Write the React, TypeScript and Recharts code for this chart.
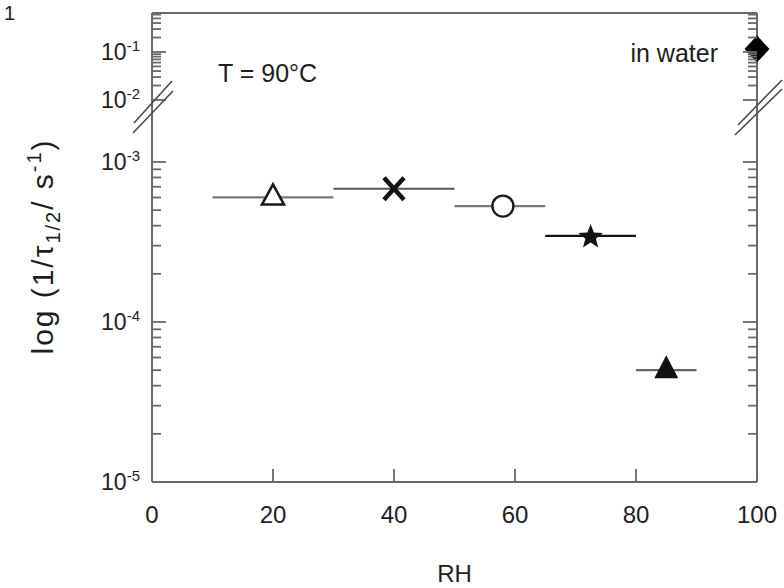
import React from 'react';
import { ComposedChart, Scatter, XAxis, YAxis, ErrorBar, ReferenceLine } from 'recharts';

const FONT = '"Liberation Sans", Arial, Helvetica, sans-serif';
const AXIS_COLOR = '#6a6a6a';
const TEXT_COLOR = '#1e1e1e';

// ---- data ----
const seriesNames = ['RH 20 %', 'RH 40 %', 'RH 58 %', 'RH 72 %', 'RH 85 %', 'in water'];
const rhCenter = [20, 40, 58, 72.5, 85, 100];
const rhLow = [10, 30, 50, 65, 80, 100];
const rhHigh = [30, 50, 65, 80, 90, 100];
const rateValues = [6.0e-4, 6.8e-4, 5.3e-4, 3.45e-4, 5.0e-5, 0.115];
const barColors = ['#7a7a7a', '#555555', '#7a7a7a', '#141414', '#666666', 'none'];
const axisOfSeries = ['y', 'y', 'y', 'y', 'y', 'r'];

const xTicks = [0, 20, 40, 60, 80, 100];
const yMajorExponents = [-5, -4, -3, -2, -1];
const yMinorLower = [2e-5, 3e-5, 4e-5, 5e-5, 6e-5, 7e-5, 8e-5, 9e-5, 2e-4, 3e-4, 4e-4, 5e-4, 6e-4, 7e-4, 8e-4, 9e-4];
const yMinorUpper = [2e-2, 3e-2, 4e-2, 5e-2, 6e-2, 7e-2, 8e-2, 9e-2, 2e-1, 3e-1, 4e-1, 5e-1, 6e-1];
const BREAK_EXP = -2;

// ---- broken log axis: lower part 1e-5..1e-3 full decades, upper part compressed ----
const UPPER_BASE = 2.3875;
const UPPER_SCALE = 0.3;
const TOP_U = 2.931;
const toU = (v: number) => {
  const lg = Math.log10(v);
  return lg < -2.5 ? lg + 5 : UPPER_BASE + (lg + 2) * UPPER_SCALE;
};

const majorInfo = yMajorExponents.map((e) => ({ exp: e, u: toU(Math.pow(10, e)) }));
const yTickU = [...majorInfo.map((m) => m.u), ...yMinorLower.map(toU), ...yMinorUpper.map(toU)].sort((a, b) => a - b);
const findMajor = (u: number) => majorInfo.find((m) => Math.abs(m.u - u) < 1e-6);

// ---- markers ----
const OpenTriangle = ({ cx, cy }: any) => (
  <polygon points={`${cx},${cy - 13} ${cx - 11},${cy + 7} ${cx + 11},${cy + 7}`} fill="#fff" stroke="#1a1a1a" strokeWidth={2.6} strokeLinejoin="miter" />
);
const CrossMark = ({ cx, cy }: any) => (
  <g stroke="#111" strokeWidth={4.5}>
    <line x1={cx - 10} y1={cy - 11} x2={cx + 10} y2={cy + 11} />
    <line x1={cx - 10} y1={cy + 11} x2={cx + 10} y2={cy - 11} />
  </g>
);
const OpenCircle = ({ cx, cy }: any) => <circle cx={cx} cy={cy} r={10.5} fill="#fff" stroke="#1a1a1a" strokeWidth={2.4} />;
const StarMark = ({ cx, cy }: any) => {
  const pts: string[] = [];
  for (let i = 0; i < 10; i++) {
    const r = i % 2 === 0 ? 13 : 5.5;
    const a = -Math.PI / 2 + (i * Math.PI) / 5;
    pts.push(`${cx + r * Math.cos(a)},${cy + 1 + r * Math.sin(a)}`);
  }
  return <polygon points={pts.join(' ')} fill="#111" />;
};
const FilledTriangle = ({ cx, cy }: any) => (
  <polygon points={`${cx},${cy - 15} ${cx - 12},${cy + 8} ${cx + 12},${cy + 8}`} fill="#111" />
);
const DiamondMark = ({ cx, cy }: any) => (
  <polygon points={`${cx},${cy - 13.5} ${cx + 12.5},${cy} ${cx},${cy + 13.5} ${cx - 12.5},${cy}`} fill="#000" />
);
const shapes = [OpenTriangle, CrossMark, OpenCircle, StarMark, FilledTriangle, DiamondMark];

const seriesData = rhCenter.map((x, i) => [
  { x, y: toU(rateValues[i]), err: [x - rhLow[i], rhHigh[i] - x] },
]);

// ---- axis decorations ----
const BreakMarks = ({ x, y, side }: any) =>
  side === 'left' ? (
    <g stroke="#4a4a4a" strokeWidth={1.6}>
      <line x1={x - 18} y1={y + 23} x2={x + 20} y2={y - 19} />
      <line x1={x - 19} y1={y + 33} x2={x + 21} y2={y - 9} />
    </g>
  ) : (
    <g stroke="#4a4a4a" strokeWidth={1.6}>
      <line x1={x - 19} y1={y + 25} x2={x + 25} y2={y - 20} />
      <line x1={x - 22} y1={y + 35} x2={x + 25} y2={y - 11} />
    </g>
  );

const LeftYTick = (props: any) => {
  const { x, y, payload } = props;
  const major = findMajor(payload.value);
  const len = major ? 14 : 9;
  return (
    <g>
      <line x1={x} x2={x + len} y1={y} y2={y} stroke={AXIS_COLOR} strokeWidth={1.8} />
      {major && (
        <text x={x - 12} y={y + 8} textAnchor="end" fontFamily={FONT} fontSize={23} fill={TEXT_COLOR}>
          10
          <tspan fontSize={15} dy={-9}>{String(major.exp)}</tspan>
        </text>
      )}
      {major && major.exp === BREAK_EXP && <BreakMarks x={x} y={y} side="left" />}
    </g>
  );
};

const RightYTick = (props: any) => {
  const { x, y, payload } = props;
  const major = findMajor(payload.value);
  const len = major ? 14 : 9;
  return (
    <g>
      <line x1={x - len} x2={x} y1={y} y2={y} stroke={AXIS_COLOR} strokeWidth={1.8} />
      {major && major.exp === BREAK_EXP && <BreakMarks x={x} y={y} side="right" />}
    </g>
  );
};

const XTick = (props: any) => {
  const { x, y, payload } = props;
  return (
    <g>
      <line x1={x} x2={x} y1={y} y2={y - 13} stroke={AXIS_COLOR} strokeWidth={1.8} />
      <text x={x} y={y + 41} textAnchor="middle" fontFamily={FONT} fontSize={24} fill={TEXT_COLOR}>
        {payload.value}
      </text>
    </g>
  );
};

const YTitleAndNotes = (props: any) => {
  const { x, y, width, height } = props.viewBox;
  const cx = x - 39;
  const cy = y + height / 2;
  const plotLeft = x + width;
  return (
    <g fontFamily={FONT} fill={TEXT_COLOR}>
      <text transform={`translate(${cx},${cy}) rotate(-90)`} textAnchor="middle" fontSize={30} textLength={214} lengthAdjust="spacing">
        log (1/τ
        <tspan fontSize={20} dy={7}>1/2</tspan>
        <tspan dy={-7}>/ s</tspan>
        <tspan fontSize={20} dy={-12}>-1</tspan>
        <tspan dy={12}>)</tspan>
      </text>
      <text x={4} y={20} fontSize={20}>1</text>
      <text x={plotLeft + 66} y={y + 69} fontSize={25}>T = 90°C</text>
      <text x={plotLeft + 566} y={y + 49} fontSize={25} textAnchor="end">in water</text>
    </g>
  );
};

const XTitle = (props: any) => {
  const { x, y, width } = props.viewBox;
  return (
    <text x={x + width / 2} y={y + 100} textAnchor="middle" fontFamily={FONT} fontSize={24} fill={TEXT_COLOR}>
      RH
    </text>
  );
};

export default function App() {
  return (
    <div style={{ position: 'absolute', left: 0, top: 0, width: 784, height: 588, background: '#fff' }}>
      <ComposedChart width={784} height={588} margin={{ top: 13, right: 26, bottom: 0, left: 92 }}>
        <XAxis
          xAxisId="x"
          type="number"
          dataKey="x"
          domain={[0, 100]}
          ticks={xTicks}
          interval={0}
          tickLine={false}
          tickSize={0}
          tickMargin={0}
          height={106}
          axisLine={{ stroke: AXIS_COLOR, strokeWidth: 2 }}
          tick={<XTick />}
          label={{ content: <XTitle /> } as any}
        />
        <YAxis
          yAxisId="y"
          type="number"
          dataKey="y"
          domain={[0, TOP_U]}
          ticks={yTickU}
          interval={0}
          tickLine={false}
          tickSize={0}
          tickMargin={0}
          width={60}
          axisLine={{ stroke: AXIS_COLOR, strokeWidth: 2 }}
          tick={<LeftYTick />}
          label={{ content: <YTitleAndNotes /> } as any}
        />
        <YAxis
          yAxisId="r"
          orientation="right"
          type="number"
          dataKey="y"
          domain={[0, TOP_U]}
          ticks={yTickU}
          interval={0}
          tickLine={false}
          tickSize={0}
          tickMargin={0}
          width={1}
          axisLine={{ stroke: AXIS_COLOR, strokeWidth: 2 }}
          tick={<RightYTick />}
        />
        <ReferenceLine xAxisId="x" yAxisId="y" y={TOP_U} stroke={AXIS_COLOR} strokeWidth={2} />
        {seriesData.map((d, i) => {
          const Shape = shapes[i];
          return (
            <Scatter
              key={seriesNames[i]}
              name={seriesNames[i]}
              data={d}
              dataKey="y"
              xAxisId="x"
              yAxisId={axisOfSeries[i]}
              isAnimationActive={false}
              shape={(p: any) => <Shape cx={p.cx} cy={p.cy} />}
            >
              {barColors[i] !== 'none' && (
                <ErrorBar dataKey="err" direction="x" width={0} stroke={barColors[i]} strokeWidth={2.2} isAnimationActive={false} />
              )}
            </Scatter>
          );
        })}
      </ComposedChart>
    </div>
  );
}
